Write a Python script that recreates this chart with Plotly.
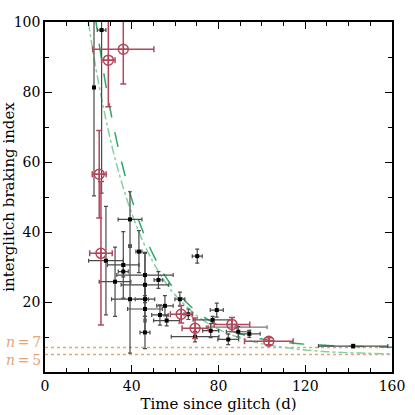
"""Interglitch braking index against time since glitch."""

import plotly.graph_objects as go

# red points (circled, with crosshair)
red_t = [36.1, 29.2, 25.0, 25.8, 62.8, 69.2, 86.2, 103.2]
red_n = [92.2, 89.1, 56.5, 33.9, 16.5, 12.5, 13.6, 8.8]
red_t_err = [14.1, 3.1, 3.2, 5.2, 5.0, 6.0, 8.2, 11.2]
red_n_err = [9.9, 13.3, 12.5, 20.5, 2.5, 2.9, 2.0, 1.0]

# black points
blk_t = [22.6, 26.1, 28.1, 39.2, 39.2, 36.1, 36.1, 32.3, 43.3, 46.1,
         46.1, 46.1, 46.1, 46.1, 52.3, 55.3, 53.0, 56.1, 62.2, 70.2,
         79.2, 66.1, 69.2, 77.3, 89.1, 94.2, 84.5, 76.4, 142.1]
blk_n = [81.3, 97.7, 31.8, 43.6, 20.8, 30.6, 28.7, 25.8, 34.4, 27.7,
         24.9, 20.8, 18.0, 11.3, 26.3, 18.9, 16.3, 14.7, 20.8, 33.1,
         17.7, 16.5, 10.1, 14.9, 11.5, 10.9, 9.3, 11.8, 7.4]
blk_t_err = [0.0, 2.0, 8.0, 5.5, 8.5, 7.3, 2.3, 7.3, 1.4, 13.0,
             11.0, 4.5, 8.0, 2.3, 2.0, 3.8, 3.8, 6.0, 2.3, 2.3,
             3.0, 2.0, 11.0, 9.0, 5.5, 5.0, 4.8, 3.7, 16.0]
blk_n_err = [31.0, 46.6, 15.5, 7.9, 15.4, 9.5, 1.5, 9.9, 6.0, 6.5,
             9.0, 1.0, 7.0, 4.6, 2.4, 2.9, 2.9, 1.5, 2.0, 2.0,
             2.0, 1.5, 1.5, 1.0, 1.5, 1.0, 1.5, 2.0, 0.5]

# grey points
gry_t = [39.2, 46.1, 88.4]
gry_n = [36.0, 14.7, 12.8]
gry_t_err = [0.0, 0.0, 14.0]

# model curves
dash_t = [23, 25, 28, 31, 35, 40, 45, 50, 55, 60, 70, 80, 90, 100, 115, 130, 145, 160]
dash_n = [102.3, 93.7, 82.1, 72.1, 60.8, 49.4, 40.4, 33.4, 27.8, 23.4, 17.2, 13.3,
          10.9, 9.4, 8.2, 7.6, 7.3, 7.1]
dot_t = [20, 22, 25, 28, 31, 35, 40, 45, 50, 55, 60, 70, 80, 90, 100, 115, 130, 145, 160]
dot_n = [100.0, 92.1, 81.6, 72.4, 64.2, 54.9, 45.3, 37.5, 31.2, 26.1, 22.0, 16.1,
         12.2, 9.7, 8.1, 6.6, 5.8, 5.4, 5.2]

# reference braking indices
n_levels = [7, 5]
n_labels = ['<i>n</i>\u2009=\u20097', '<i>n</i>\u2009=\u20095']

# tick labels
x_ticks = [0, 40, 80, 120, 160]
y_ticks = [20, 40, 60, 80, 100]

RED = '#b3475a'
GREEN = '#2fa86a'
LIGHT_GREEN = '#86d0a2'
ORANGE = '#e3a672'
BAR_GREY = '#4a4a4a'
FONT = 'DejaVu Serif'

fig = go.Figure()

for level in n_levels:
    fig.add_trace(go.Scatter(x=[0, 160], y=[level, level], mode='lines',
                             line=dict(color=ORANGE, width=1.5, dash='dot'),
                             showlegend=False, hoverinfo='skip'))

fig.add_trace(go.Scatter(x=dot_t, y=dot_n, mode='lines',
                         line=dict(color=LIGHT_GREEN, width=1.5, dash='dashdot',
                                   shape='spline'),
                         showlegend=False))
fig.add_trace(go.Scatter(x=dash_t, y=dash_n, mode='lines',
                         line=dict(color=GREEN, width=1.5, dash='longdash',
                                   shape='spline'),
                         showlegend=False))

fig.add_trace(go.Scatter(x=gry_t, y=gry_n, mode='markers',
                         marker=dict(symbol='square', size=4, color='#888888'),
                         error_x=dict(type='data', array=gry_t_err, color='#777777',
                                      thickness=1.2, width=2),
                         showlegend=False))

fig.add_trace(go.Scatter(x=blk_t, y=blk_n, mode='markers',
                         marker=dict(symbol='square', size=4, color='black'),
                         error_x=dict(type='data', array=blk_t_err, color=BAR_GREY,
                                      thickness=1.2, width=2),
                         error_y=dict(type='data', array=blk_n_err, color=BAR_GREY,
                                      thickness=1.2, width=2),
                         showlegend=False))

fig.add_trace(go.Scatter(x=red_t, y=red_n, mode='markers',
                         marker=dict(symbol='circle-cross-open', size=10,
                                     color=RED, line=dict(width=1.5, color=RED)),
                         error_x=dict(type='data', array=red_t_err, color=RED,
                                      thickness=1.5, width=3),
                         error_y=dict(type='data', array=red_n_err, color=RED,
                                      thickness=1.5, width=3),
                         showlegend=False))

for level, label, shift in zip(n_levels, n_labels, [6, -5]):
    fig.add_annotation(x=0, y=level, xref='paper', yref='y', text=label,
                       showarrow=False, xanchor='right', yanchor='middle',
                       xshift=-2, yshift=shift,
                       font=dict(family=FONT, size=14, color=ORANGE))

axis_style = dict(showline=True, linecolor='black', linewidth=1.5, mirror='ticks',
                  ticks='inside', ticklen=7, tickwidth=1.2, tickcolor='black',
                  showgrid=False, zeroline=False, automargin=False,
                  tickfont=dict(family=FONT, size=14, color='black'))

fig.update_layout(
    width=415, height=415,
    margin=dict(l=45, r=23, t=22, b=43),
    paper_bgcolor='white', plot_bgcolor='white',
    font=dict(family=FONT, size=14, color='black'),
    xaxis=dict(range=[0, 160], tickmode='array', tickvals=x_ticks,
               minor=dict(ticks='inside', dtick=10, ticklen=4, tickcolor='black'),
               title=dict(text='Time since glitch (d)', standoff=6,
                          font=dict(family=FONT, size=15)),
               **axis_style),
    yaxis=dict(range=[0, 100], tickmode='array', tickvals=y_ticks,
               minor=dict(ticks='inside', dtick=10, ticklen=4, tickcolor='black'),
               title=dict(text='interglitch braking index', standoff=8,
                          font=dict(family=FONT, size=15)),
               **axis_style),
)

# drop the default page margin so the chart sits at the window's corner
fig.write_html("out.html", config={'displayModeBar': False},
               post_script="document.body.style.margin='0';")
